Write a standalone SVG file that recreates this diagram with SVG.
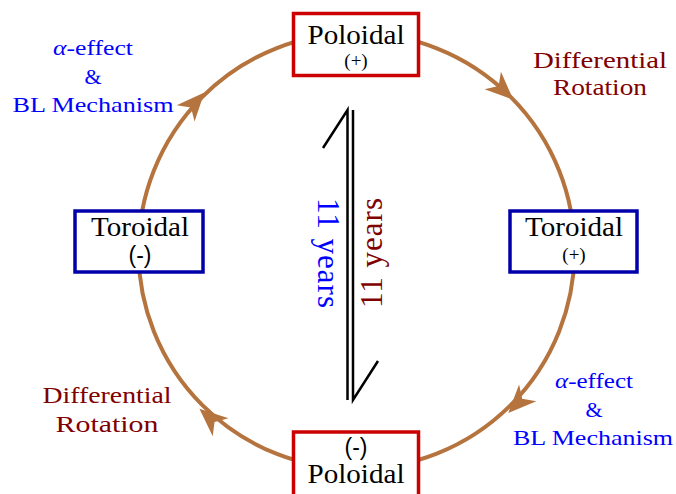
<svg xmlns="http://www.w3.org/2000/svg" width="676" height="494" viewBox="0 0 676 494">
<style>
.arc{fill:none;stroke:#b5733e;stroke-width:4}
.head{fill:#b5733e}
.pol{fill:#fff;stroke:#cc0000;stroke-width:3.5}
.tor{fill:#fff;stroke:#0000aa;stroke-width:3.5}
.t{font-family:"Liberation Serif","Times New Roman",serif;text-anchor:middle}
.big{font-size:27px;fill:#000}
.sm{font-size:19px;fill:#000}
.blue{font-size:22px;fill:#0000ff}
.red{font-size:23px;fill:#800000}
.yr{font-size:31px}
.ln{stroke:#000;stroke-width:2.5;fill:none}
.sans{font-family:"Liberation Sans",Arial,sans-serif;font-size:23px;text-anchor:middle;fill:#000}
</style>
<defs>
<path id="ah" d="M14,0 L-14,-12 L-6,0 L-14,12 Z" class="head"/>
</defs>
<g id="connectors">
<circle class="arc" cx="356.5" cy="251" r="218"/>
<use href="#ah" transform="translate(503,90) rotate(43)"/>
<use href="#ah" transform="translate(518,403) rotate(134)"/>
<use href="#ah" transform="translate(210,418) rotate(221)"/>
<use href="#ah" transform="translate(195,103) rotate(-48)"/>
</g>
<g id="center-arrows">
<path class="ln" d="M347.5,400 L347.5,110 L323,148"/>
<path class="ln" d="M353,110 L353,400 L378,361"/>
<text class="t yr" fill="#0000ff" transform="translate(318,253) rotate(90)" textLength="110">11 years</text>
<text class="t yr" fill="#800000" transform="translate(382,253) rotate(-90)" textLength="110">11 years</text>
</g>
<g id="poloidal-top">
<rect class="pol" x="293.5" y="13.5" width="125" height="62"/>
<text class="t big" x="356" y="44" textLength="97" lengthAdjust="spacingAndGlyphs">Poloidal</text>
<text class="t sm" x="356" y="67">(+)</text>
</g>
<g id="toroidal-right">
<rect class="tor" x="510" y="211" width="127" height="61"/>
<text class="t big" x="574" y="236" textLength="98" lengthAdjust="spacingAndGlyphs">Toroidal</text>
<text class="t sm" x="574" y="261">(+)</text>
</g>
<g id="toroidal-left">
<rect class="tor" x="75" y="211" width="128" height="61"/>
<text class="t big" x="140" y="236" textLength="98" lengthAdjust="spacingAndGlyphs">Toroidal</text>
<text class="sans" x="140" y="263">(-)</text>
</g>
<g id="poloidal-bottom">
<rect class="pol" x="293.5" y="432" width="125" height="70"/>
<text class="sans" x="356" y="455">(-)</text>
<text class="t big" x="356" y="483" textLength="97" lengthAdjust="spacingAndGlyphs">Poloidal</text>
</g>
<g id="label-tl">
<text class="t blue" x="93" y="55" textLength="80" lengthAdjust="spacingAndGlyphs"><tspan font-style="italic">α</tspan>-effect</text>
<text class="t blue" x="93" y="84">&amp;</text>
<text class="t blue" x="93" y="112" textLength="161" lengthAdjust="spacingAndGlyphs">BL Mechanism</text>
</g>
<g id="label-tr">
<text class="t red" x="600" y="68" textLength="134" lengthAdjust="spacingAndGlyphs">Differential</text>
<text class="t red" x="600" y="95" textLength="94" lengthAdjust="spacingAndGlyphs">Rotation</text>
</g>
<g id="label-br">
<text class="t blue" x="594" y="388" textLength="78" lengthAdjust="spacingAndGlyphs"><tspan font-style="italic">α</tspan>-effect</text>
<text class="t blue" x="594" y="417">&amp;</text>
<text class="t blue" x="593" y="445" textLength="160" lengthAdjust="spacingAndGlyphs">BL Mechanism</text>
</g>
<g id="label-bl">
<text class="t red" x="107" y="403" textLength="129" lengthAdjust="spacingAndGlyphs">Differential</text>
<text class="t red" x="107" y="432" textLength="103" lengthAdjust="spacingAndGlyphs">Rotation</text>
</g>
</svg>
